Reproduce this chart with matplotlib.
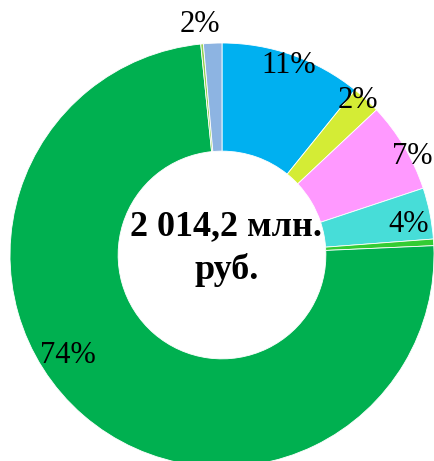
import matplotlib
matplotlib.use("Agg")
import matplotlib.pyplot as plt
import numpy as np

values = [10.8, 2.2, 6.9, 3.9, 0.5, 74.1, 0.2, 1.4]
colors = ["#00B0F0", "#D4EC35", "#FF99FF", "#47DDD8", "#33CC33", "#00B050", "#92D050", "#8DB4E2"]
labels = ["11%", "2%", "7%", "4%", "", "74%", "", "2%"]
label_r = [0.95, 0.97, 1.01, 0.89, 0, 0.87, 0, 1.09]
label_da = [0, -1.5, 3.5, 2, 0, 16, 0, -3]  # degrees clockwise offset
center_text = "2 014,2 млн.\nруб."

fig = plt.figure(figsize=(4.35, 4.61), dpi=100)
ax = fig.add_axes([0, 0, 1, 1])
ax.pie(values, colors=colors, startangle=90, counterclock=False, radius=1.0,
       wedgeprops=dict(width=0.51, edgecolor="white", linewidth=0.6))
total = sum(values)
cum = 0
for v, lab, r, da in zip(values, labels, label_r, label_da):
    mid = cum + v / 2
    cum += v
    if not lab:
        continue
    ang = np.deg2rad(90 - (mid / total * 360 + da))
    ax.text(r * np.cos(ang), r * np.sin(ang), lab, ha="center", va="center",
            fontsize=22, family="Liberation Serif", color="black")
ax.text(0.02, 0.03, center_text, ha="center", va="center", fontsize=26,
        fontweight="bold", family="Liberation Serif", linespacing=1.4)
ax.set_xlim(-222 / 212, (435 - 222) / 212)
ax.set_ylim(-(461 - 255) / 212, 255 / 212)
ax.set_aspect("equal")
ax.axis("off")
fig.savefig("out.png", dpi=100)
